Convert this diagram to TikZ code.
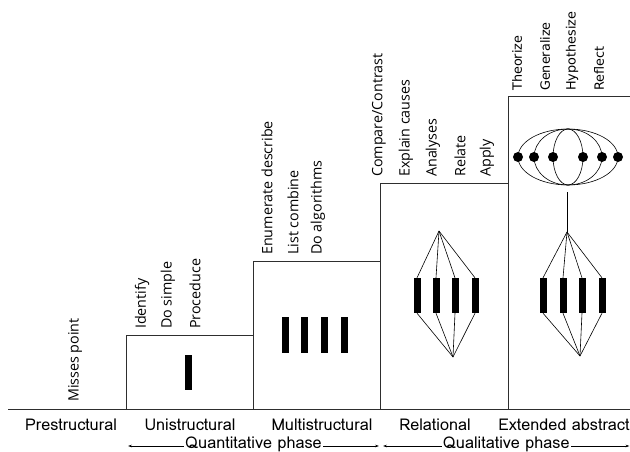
\documentclass[tikz,border=0pt]{standalone}
\usepackage{fontspec}
\setmainfont{Open Sans}
\newfontfamily\lomafont{Loma}
\newfontfamily\dejafont{DejaVu Sans}
\usetikzlibrary{arrows.meta,positioning}
\definecolor{cEdge}{HTML}{2E2E2E}
\tikzset{
  stepbox/.style={draw=cEdge,line width=0.9pt,anchor=south west,inner sep=0pt,
      outer sep=0pt},
  verb/.style={rotate=90,anchor=west,inner sep=0pt,
      font=\fontsize{14.3}{16}\selectfont},
  verbx/.style={verb,font=\dejafont\fontsize{12.8}{15}\selectfont},
  level/.style={anchor=base,inner sep=0pt,font=\lomafont\fontsize{16.2}{18}\selectfont},
  bar/.style={fill=black,inner sep=0pt,minimum width=7pt,minimum height=35pt},
  wire/.style={line width=0.6pt},
  blob/.style={circle,fill=black,inner sep=0pt,minimum size=10pt},
  phaseline/.style={line width=0.5pt,
      {Stealth[length=4pt,width=2.6pt]}-{Stealth[length=4pt,width=2.6pt]}},
  phasetext/.style={midway,fill=white,inner sep=1pt,anchor=mid,
      font=\lomafont\fontsize{16.2}{18}\selectfont},
}

\begin{document}
\begin{tikzpicture}[x=1pt,y=-1pt]
  \useasboundingbox (0,0) rectangle (630,452);

  % staircase
  \coordinate (base0) at (8,409);
  \coordinate (base1) at (634,409);
  \draw[draw=cEdge,line width=0.9pt] (base0) -- (base1);
  \node[stepbox,minimum width=127pt,minimum height=74pt] (uni) at (126,409) {};
  \node[stepbox,minimum width=127pt,minimum height=148pt] (multi) at (253,409) {};
  \node[stepbox,minimum width=128pt,minimum height=226pt] (rel) at (380,409) {};
  \node[stepbox,minimum width=126pt,minimum height=313pt] (ext) at (508,409) {};

  % verbs
  \node[verb] (vMiss) at (75,402) {Misses point};
  \node[verb] (vIdent) at (142,329) {Identify};
  \node[verb] (vSimple) at (168,329) {Do simple};
  \node[verb] (vProc) at (195,329) {Proceduce};
  \node[verb] (vEnum) at (267,255) {Enumerate describe};
  \node[verb] (vList) at (293,255) {List combine};
  \node[verb] (vAlgo) at (318,255) {Do algorithms};
  \node[verb] (vComp) at (379,177) {Compare/Contrast};
  \node[verb] (vExpl) at (406,177) {Explain causes};
  \node[verb] (vAnal) at (433,177) {Analyses};
  \node[verb] (vRelate) at (460,177) {Relate};
  \node[verb] (vApply) at (487,177) {Apply};
  \node[verbx] (vTheo) at (517,91) {Theorize};
  \node[verbx] (vGen) at (545,91) {Generalize};
  \node[verbx] (vHyp) at (572,91) {Hypothesize};
  \node[verbx] (vRefl) at (599,91) {Reflect};

  % unistructural
  \node[bar] (u1) at (188,372) {};

  % multistructural
  \foreach \i/\x in {1/285,2/304.5,3/324,4/344}
    \node[bar,minimum height=36pt] (m\i) at (\x,335) {};

  % relational
  \coordinate (rTop) at (439,231);
  \coordinate (rBot) at (453,357);
  \foreach \i/\x in {1/417,2/436,3/455,4/475}{
    \node[bar] (r\i) at (\x,295.5) {};
    \draw[wire] (rTop) -- (r\i.north);
    \draw[wire] (r\i.south) -- (rBot);
  }

  % extended abstract
  \coordinate (eTop) at (567,232);
  \coordinate (eBot) at (580,356);
  \coordinate (eStem) at (567,192);
  \draw[wire] (eStem) -- (eTop);
  \foreach \i/\x in {1/543,2/563,3/582,4/602}{
    \node[bar] (e\i) at (\x,295.5) {};
    \draw[wire] (eTop) -- (e\i.north);
    \draw[wire] (e\i.south) -- (eBot);
  }
  \coordinate (oval) at (568,157);
  \foreach \r in {50,34,15}
    \draw[wire] (oval) ellipse [x radius=\r,y radius=28];
  \foreach \i/\dx in {1/-50,2/-34,3/-15,4/15,5/34,6/50}
    \node[blob] (d\i) at ([xshift=\dx pt]oval) {};

  % levels
  \node[level] (lPre) at (71,430) {Prestructural};
  \node[level] (lUni) at (190,430) {Unistructural};
  \node[level] (lMulti) at (322,430) {Multistructural};
  \node[level] (lRel) at (435,430) {Relational};
  \node[level] (lExt) at (564,430) {Extended abstract};

  % phases
  \coordinate (quantL) at (128,446);
  \coordinate (quantR) at (379,446);
  \coordinate (qualL) at (383,446);
  \coordinate (qualR) at (629.5,446);
  \draw[phaseline] (quantL) -- node[phasetext]{Quantitative phase} (quantR);
  \draw[phaseline] (qualL) -- node[phasetext]{Qualitative phase} (qualR);
\end{tikzpicture}
\end{document}
